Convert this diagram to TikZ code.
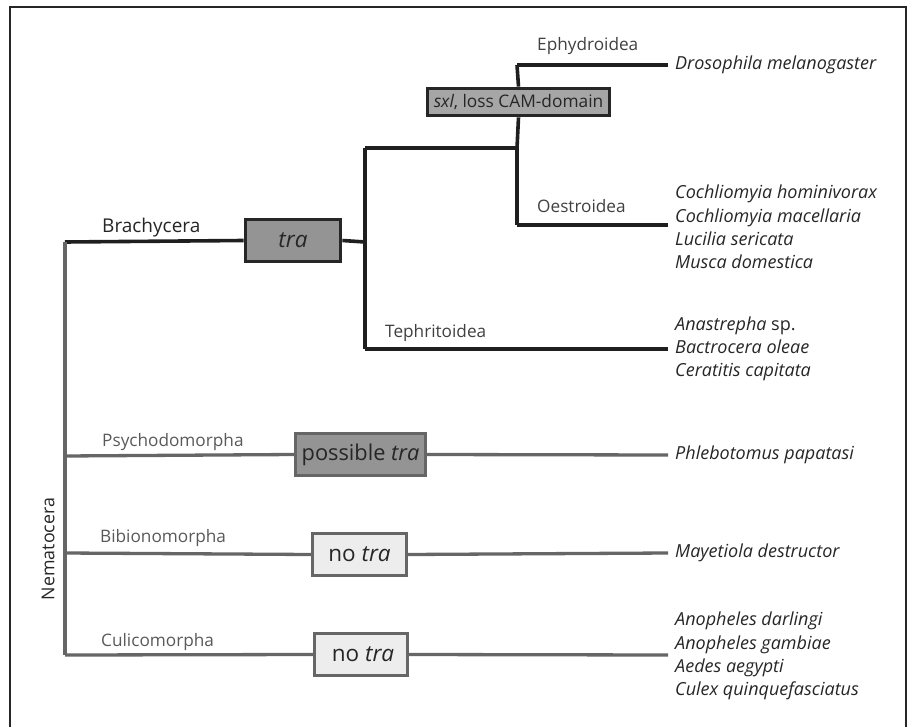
\documentclass[tikz,border=0pt]{standalone}
\usepackage{fontspec}
\setmainfont{Open Sans}
\begin{document}
\begin{tikzpicture}[x=1pt,y=-1pt,
  blk/.style={draw=black!88, line width=3.6pt},
  gry/.style={draw=black!60, line width=3.3pt},
  framel/.style={draw=black!85, line width=2pt},
  sp/.style={anchor=west, inner ysep=2pt, inner xsep=7pt, align=left, font=\fontsize{18}{23.3}\selectfont\itshape, text=black!85},
  clade/.style={anchor=west, inner sep=0pt, font=\fontsize{17.2}{20}\selectfont, text=black!75},
  darkbox/.style={draw=black!85, line width=3.8pt, fill=black!42, inner sep=0pt, text=black!85},
  grybox/.style={draw=black!60, line width=3.3pt, fill=black!42, inner sep=0pt, text=black!85},
  litebox/.style={draw=black!60, line width=3.3pt, fill=black!7, inner sep=0pt, text=black!85}
]
\useasboundingbox (0,0) rectangle (912,727);
\draw[framel] (10,740) -- (10,7) -- (906,7) -- (906,740);

% Brachycera
\coordinate (rtop) at (65,242);
\coordinate (rbot) at (65,655);
\node[darkbox, minimum width=95pt, minimum height=42pt, font=\fontsize{22.5}{24}\selectfont\itshape] (tra) at (293,240.5) {tra};
\coordinate (b1) at (365,242);
\coordinate (b1t) at (365,148);
\coordinate (b1b) at (365,349);
\coordinate (b2) at (517,148);
\node[darkbox, minimum width=182pt, minimum height=27pt, fill=black!35, font=\fontsize{17.3}{20}\selectfont] (sxl) at (518.5,102) {\textit{sxl}, loss CAM-domain};
\coordinate (eph) at (517,65);
\coordinate (oes) at (517,225);

\node[sp] (dm) at (668,65) {Drosophila melanogaster};
\node[sp] (oesp) at (668,227) {Cochliomyia hominivorax\\Cochliomyia macellaria\\Lucilia sericata\\Musca domestica};
\node[sp] (tesp) at (668,349) {\textup{\textit{Anastrepha} sp.}\\Bactrocera oleae\\Ceratitis capitata};

\node[clade, font=\fontsize{19}{20}\selectfont, text=black!85] (brl) at (102,228) {Brachycera};
\node[clade] (ephl) at (537,46) {Ephydroidea};
\node[clade] (oesl) at (537,206) {Oestroidea};
\node[clade] (tepl) at (385,333) {Tephritoidea};

\draw[blk] (rtop) -- (tra.west);
\draw[blk] (tra.east) -- (b1);
\draw[blk] (b1t) -- (b1b);
\draw[blk] (b1t) -- (b2);
\draw[blk] (b2) -- (sxl.south);
\draw[blk] (sxl.north) -- (eph);
\draw[blk] (eph) -- (dm.west);
\draw[blk] (b2) -- (oes);
\draw[blk] (oes) -- (oesp.west |- oes);
\draw[blk] (b1b) -- (tesp.west);

% Nematocera
\draw[gry] (rtop) -- (rbot);
\node[rotate=90, inner sep=0pt, font=\fontsize{17.8}{20}\selectfont, text=black!85] (nem) at (48,549) {Nematocera};

\coordinate (psy) at (65,456);
\coordinate (bib) at (65,553);
\coordinate (cul) at (65,655);
\node[grybox, minimum width=130pt, minimum height=42pt, font=\fontsize{21.8}{26}\selectfont] (ptra) at (360.5,454.5) {possible \textit{tra}};
\node[litebox, minimum width=94pt, minimum height=42pt, font=\fontsize{22.5}{26}\selectfont] (ntra1) at (359.5,554.5) {no \textit{tra}};
\node[litebox, minimum width=93pt, minimum height=42pt, font=\fontsize{22.5}{26}\selectfont] (ntra2) at (361,654.5) {\hspace*{4pt}no \textit{tra}};

\node[sp] (php) at (668,455) {Phlebotomus papatasi};
\node[sp] (mad) at (668,553) {Mayetiola destructor};
\node[sp] (culsp) at (668,656) {Anopheles darlingi\\Anopheles gambiae\\Aedes aegypti\\Culex quinquefasciatus};

\node[clade, text=black!65] (psyl) at (102,442) {Psychodomorpha};
\node[clade, text=black!65] (bibl) at (100,538) {Bibionomorpha};
\node[clade, text=black!65] (cull) at (101,642) {Culicomorpha};

\draw[gry] (psy) -- (ptra.west);
\draw[gry] (ptra.east) -- (php.west);
\draw[gry] (bib) -- (ntra1.west);
\draw[gry] (ntra1.east) -- (mad.west);
\draw[gry] (cul) -- (ntra2.west);
\draw[gry] (ntra2.east) -- (culsp.west |- cul);
\end{tikzpicture}
\end{document}
